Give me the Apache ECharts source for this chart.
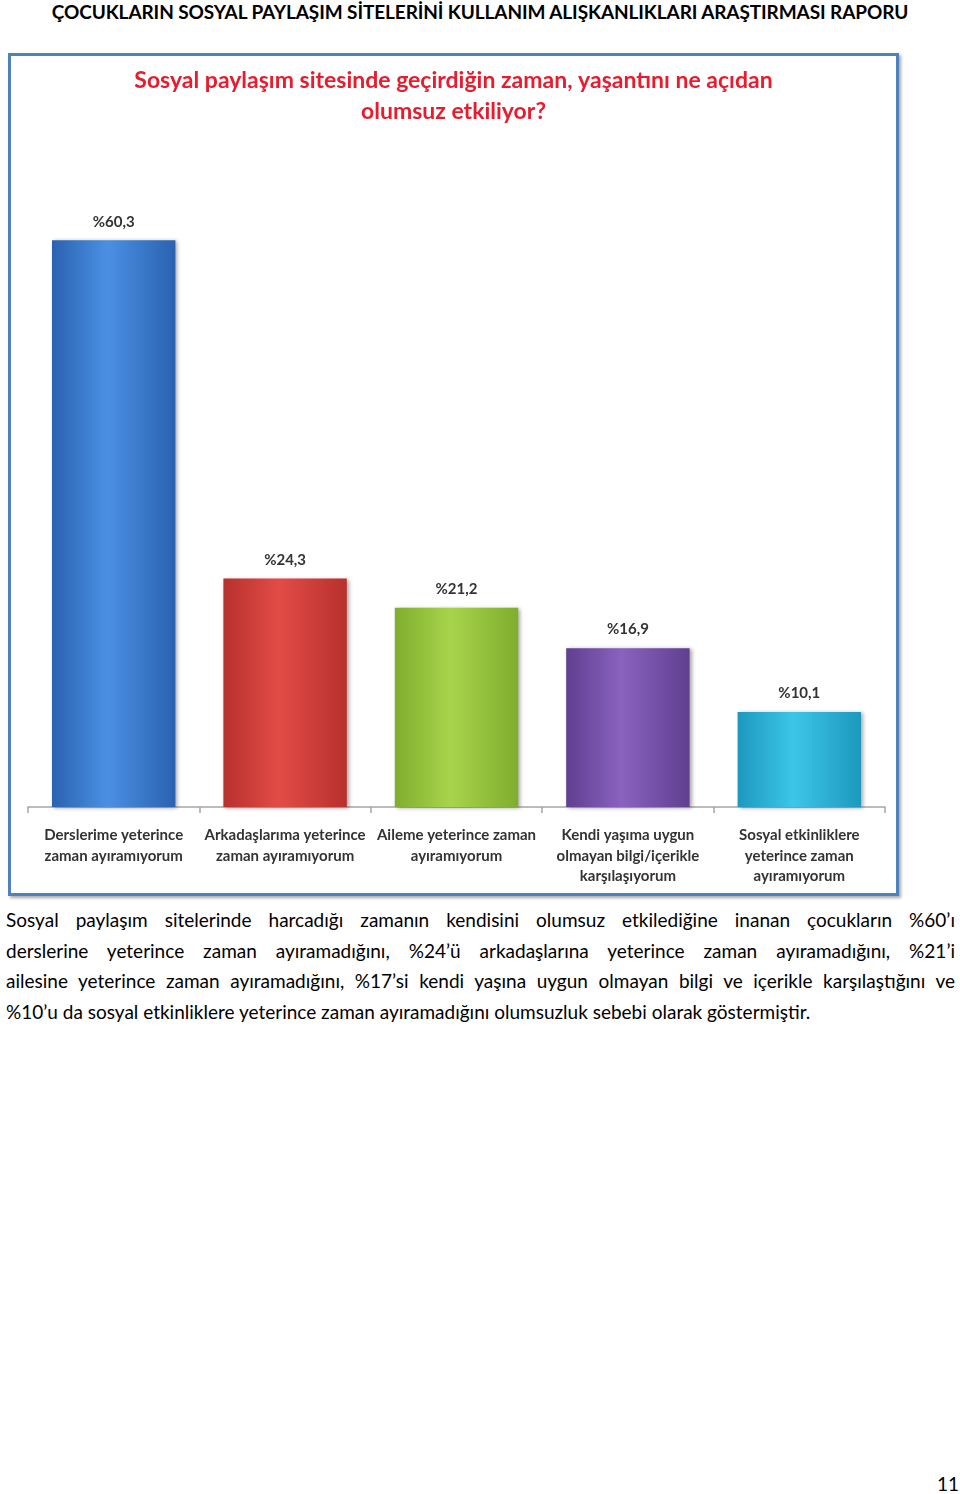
<!DOCTYPE html>
<html><head><meta charset="utf-8">
<script src="https://cdn.jsdelivr.net/npm/echarts@6/dist/echarts.min.js"></script>
<style>
html,body{margin:0;padding:0;background:#fff;}
body{width:960px;height:1494px;position:relative;overflow:hidden;font-family:Lato,"Noto Sans",sans-serif;color:#000;}
#hdr{position:absolute;left:0;top:0;width:960px;text-align:center;font-weight:bold;font-size:19px;line-height:24px;letter-spacing:-0.1px;}
#box{position:absolute;left:8px;top:53px;width:891px;height:843px;box-sizing:border-box;border:3px solid #4f81bd;box-shadow:2px 2px 3px rgba(0,0,0,0.35);}
#chart{width:885px;height:837px;}
#para{position:absolute;left:6px;top:905px;width:949px;font-size:19px;line-height:30.5px;}
#para div{text-align:justify;text-align-last:justify;white-space:nowrap;}
#para div.last{text-align-last:left;}
#pg{position:absolute;left:937px;top:1472px;font-size:19px;}
</style></head>
<body>
<div id="hdr">ÇOCUKLARIN SOSYAL PAYLAŞIM SİTELERİNİ KULLANIM ALIŞKANLIKLARI ARAŞTIRMASI RAPORU</div>
<div id="box"><div id="chart"></div></div>
<div id="para">
<div>Sosyal paylaşım sitelerinde harcadığı zamanın kendisini olumsuz etkilediğine inanan çocukların %60’ı</div>
<div>derslerine yeterince zaman ayıramadığını, %24’ü arkadaşlarına yeterince zaman ayıramadığını, %21’i</div>
<div>ailesine yeterince zaman ayıramadığını, %17’si kendi yaşına uygun olmayan bilgi ve içerikle karşılaştığını ve</div>
<div class="last">%10’u da sosyal etkinliklere yeterince zaman ayıramadığını olumsuzluk sebebi olarak göstermiştir.</div>
</div>
<div id="pg">11</div>
<script>
var categories = [
  "Derslerime yeterince\nzaman ayıramıyorum",
  "Arkadaşlarıma yeterince\nzaman ayıramıyorum",
  "Aileme yeterince zaman\nayıramıyorum",
  "Kendi yaşıma uygun\nolmayan bilgi/içerikle\nkarşılaşıyorum",
  "Sosyal etkinliklere\nyeterince zaman\nayıramıyorum"
];
var values = [60.3, 24.3, 21.2, 16.9, 10.1];
var valueLabels = ["%60,3", "%24,3", "%21,2", "%16,9", "%10,1"];
var palette = [
  ["#2a62b0", "#4a90e2", "#2a62b0"],
  ["#b8302c", "#e24c46", "#b8302c"],
  ["#7fae2e", "#a8d44c", "#7fae2e"],
  ["#5f3f8f", "#8a62c0", "#5f3f8f"],
  ["#1c98bd", "#3cc6e8", "#1c98bd"]
];
var chart = echarts.init(document.getElementById('chart'));
var font = 'Lato, "Noto Sans", sans-serif';
chart.setOption({
  animation: false,
  title: {
    text: "Sosyal paylaşım sitesinde geçirdiğin zaman, yaşantını ne açıdan\nolumsuz etkiliyor?",
    left: 'center', top: 4,
    textStyle: {color: '#ea1b2c', fontSize: 23, fontWeight: 'bold', lineHeight: 31, fontFamily: font}
  },
  grid: {left: 17, right: 11, top: 140, bottom: 86},
  xAxis: {
    type: 'category', data: categories,
    axisLine: {lineStyle: {color: '#a6a6a6', width: 1.5}},
    axisTick: {show: true, length: 6, lineStyle: {color: '#a6a6a6', width: 1.5}},
    axisLabel: {interval: 0, color: '#333333', fontSize: 15, fontWeight: 'bold', lineHeight: 20.5, margin: 18, fontFamily: font}
  },
  yAxis: {type: 'value', min: 0, max: 65, show: false, splitLine: {show: false}},
  series: [{
    type: 'bar',
    barCategoryGap: '28%',
    data: values.map(function (v, i) {
      return {
        value: v,
        itemStyle: {
          color: new echarts.graphic.LinearGradient(0, 0, 1, 0, [
            {offset: 0, color: palette[i][0]},
            {offset: 0.45, color: palette[i][1]},
            {offset: 1, color: palette[i][2]}
          ]),
          shadowBlur: 4, shadowOffsetX: 2, shadowOffsetY: 1, shadowColor: 'rgba(0,0,0,0.35)'
        }
      };
    }),
    label: {
      show: true, position: 'top', distance: 11,
      formatter: function (p) { return valueLabels[p.dataIndex]; },
      color: '#333333', fontSize: 15, fontWeight: 'bold', fontFamily: font
    }
  }]
});
</script>
</body></html>
